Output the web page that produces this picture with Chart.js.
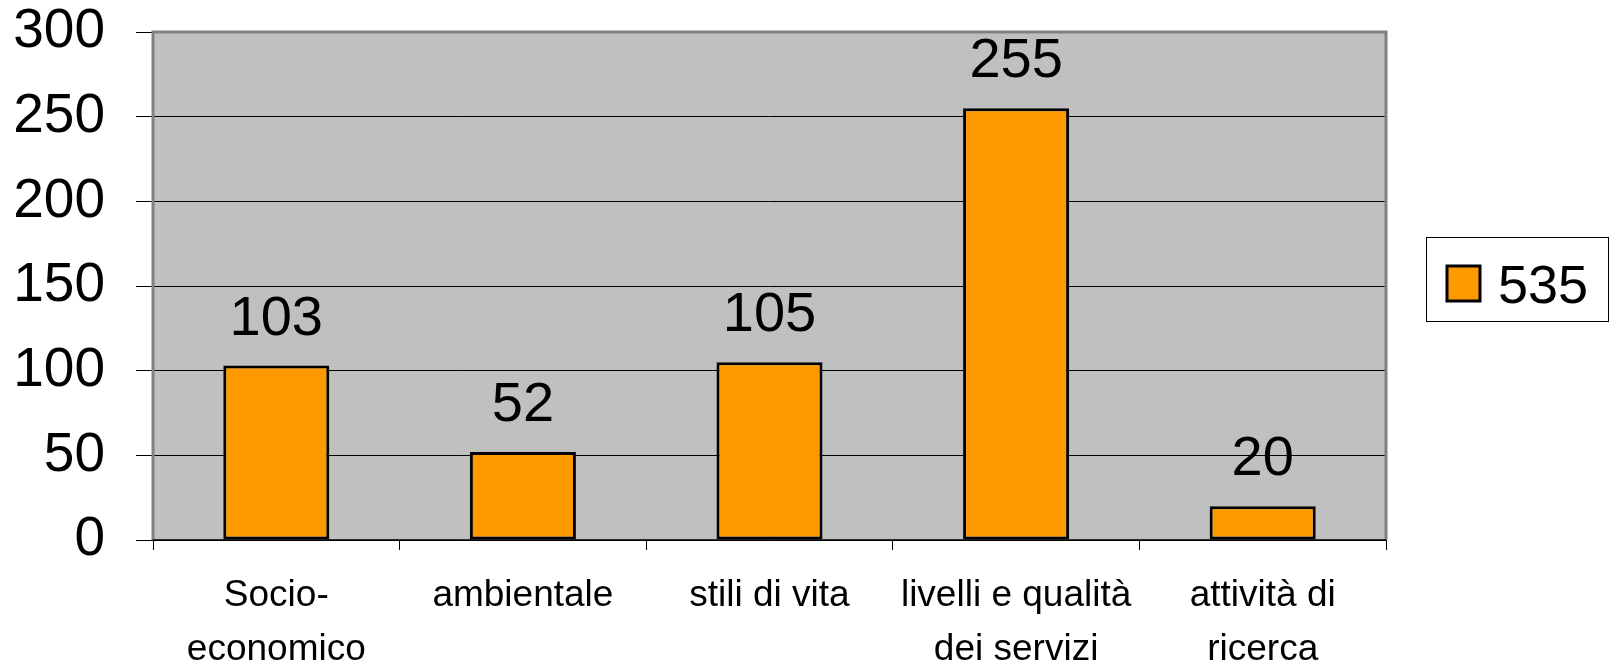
<!DOCTYPE html>
<html>
<head>
<meta charset="utf-8">
<script src="https://cdn.jsdelivr.net/npm/chart.js@4/dist/chart.umd.min.js"></script>
<style>
  html, body { margin: 0; padding: 0; background: #fff; }
  #wrap { width: 1610px; height: 666px; }
</style>
</head>
<body>
<div id="wrap"><canvas id="chart" width="1610" height="666"></canvas></div>
<script>
// data
const categories = [
    ['Socio-', 'economico'],
    'ambientale',
    'stili di vita',
    ['livelli e qualità', 'dei servizi'],
    ['attività di', 'ricerca']
];
const seriesName = '535';
const values = [103, 52, 105, 255, 20];
const yTicks = [0, 50, 100, 150, 200, 250, 300];

const FONT = '"Liberation Sans", Arial, sans-serif';
const ORANGE = '#ff9900';

// grey plot background + grey frame
const plotFrame = {
    id: 'plotFrame',
    beforeDraw(chart) {
        const a = chart.chartArea, ctx = chart.ctx;
        ctx.save();
        ctx.fillStyle = '#c0c0c0';
        ctx.fillRect(a.left, a.top, a.right - a.left, a.bottom - a.top);
        ctx.restore();
    },
    afterDatasetsDraw(chart) {
        const a = chart.chartArea, ctx = chart.ctx;
        ctx.save();
        ctx.strokeStyle = '#808080';
        ctx.lineWidth = 3;
        ctx.beginPath();
        ctx.moveTo(a.left, a.bottom);
        ctx.lineTo(a.left, a.top);
        ctx.lineTo(a.right, a.top);
        ctx.lineTo(a.right, a.bottom);
        ctx.stroke();
        // axis line
        ctx.strokeStyle = '#000';
        ctx.lineWidth = 1.5;
        ctx.beginPath();
        ctx.moveTo(a.left, a.bottom);
        ctx.lineTo(a.right, a.bottom);
        ctx.stroke();
        ctx.restore();
    }
};

// value labels above bars
const barLabels = {
    id: 'barLabels',
    afterDatasetsDraw(chart) {
        const ctx = chart.ctx;
        const meta = chart.getDatasetMeta(0);
        ctx.save();
        ctx.font = '56px ' + FONT;
        ctx.fillStyle = '#000';
        ctx.textAlign = 'center';
        ctx.textBaseline = 'alphabetic';
        meta.data.forEach((bar, i) => {
            ctx.fillText(String(values[i]), bar.x, bar.y - 31);
        });
        ctx.restore();
    }
};

// boxed legend on the right
const boxLegend = {
    id: 'boxLegend',
    afterDraw(chart) {
        const ctx = chart.ctx;
        const x = 1426, y = 237, w = 183, h = 85;
        ctx.save();
        ctx.fillStyle = '#fff';
        ctx.fillRect(x, y, w, h);
        ctx.strokeStyle = '#000';
        ctx.lineWidth = 1;
        ctx.strokeRect(x + 0.5, y + 0.5, w - 1, h - 1);
        ctx.fillStyle = ORANGE;
        ctx.fillRect(1447, 266, 33, 35);
        ctx.strokeStyle = '#000';
        ctx.lineWidth = 3;
        ctx.strokeRect(1447, 266, 33, 35);
        ctx.fillStyle = '#000';
        ctx.font = '54px ' + FONT;
        ctx.textAlign = 'left';
        ctx.textBaseline = 'alphabetic';
        ctx.fillText(chart.data.datasets[0].label, 1498, 303);
        ctx.restore();
    }
};

new Chart(document.getElementById('chart'), {
    type: 'bar',
    data: {
        labels: categories,
        datasets: [{
            label: seriesName,
            data: values,
            backgroundColor: ORANGE,
            borderColor: '#000',
            borderWidth: 3,
            borderSkipped: false,
            barPercentage: 0.43,
            categoryPercentage: 1
        }]
    },
    options: {
        responsive: false,
        animation: false,
        layout: { padding: { top: 32, right: 224, left: 0, bottom: 0 } },
        plugins: {
            legend: { display: false },
            tooltip: { enabled: false }
        },
        scales: {
            x: {
                offset: true,
                grid: {
                    offset: true,
                    drawOnChartArea: false,
                    color: '#000',
                    tickLength: 10
                },
                border: { display: false },
                ticks: {
                    color: '#000',
                    font: { family: FONT, size: 37, lineHeight: 1.46 },
                    padding: 19,
                    maxRotation: 0,
                    autoSkip: false
                },
                afterFit(scale) { scale.height = 126; }
            },
            y: {
                min: 0,
                max: 300,
                afterBuildTicks(scale) {
                    scale.ticks = yTicks.map(v => ({ value: v }));
                },
                grid: {
                    color: '#000',
                    lineWidth: 1,
                    tickLength: 17
                },
                border: { display: false },
                ticks: {
                    color: '#000',
                    font: { family: FONT, size: 55, lineHeight: 1 },
                    padding: 31
                },
                afterFit(scale) {
                    scale.width = 153;
                    // tick padding would otherwise push the plot top down
                    scale.paddingTop = 0;
                    scale.paddingBottom = 0;
                }
            }
        }
    },
    plugins: [plotFrame, barLabels, boxLegend]
});
</script>
</body>
</html>
